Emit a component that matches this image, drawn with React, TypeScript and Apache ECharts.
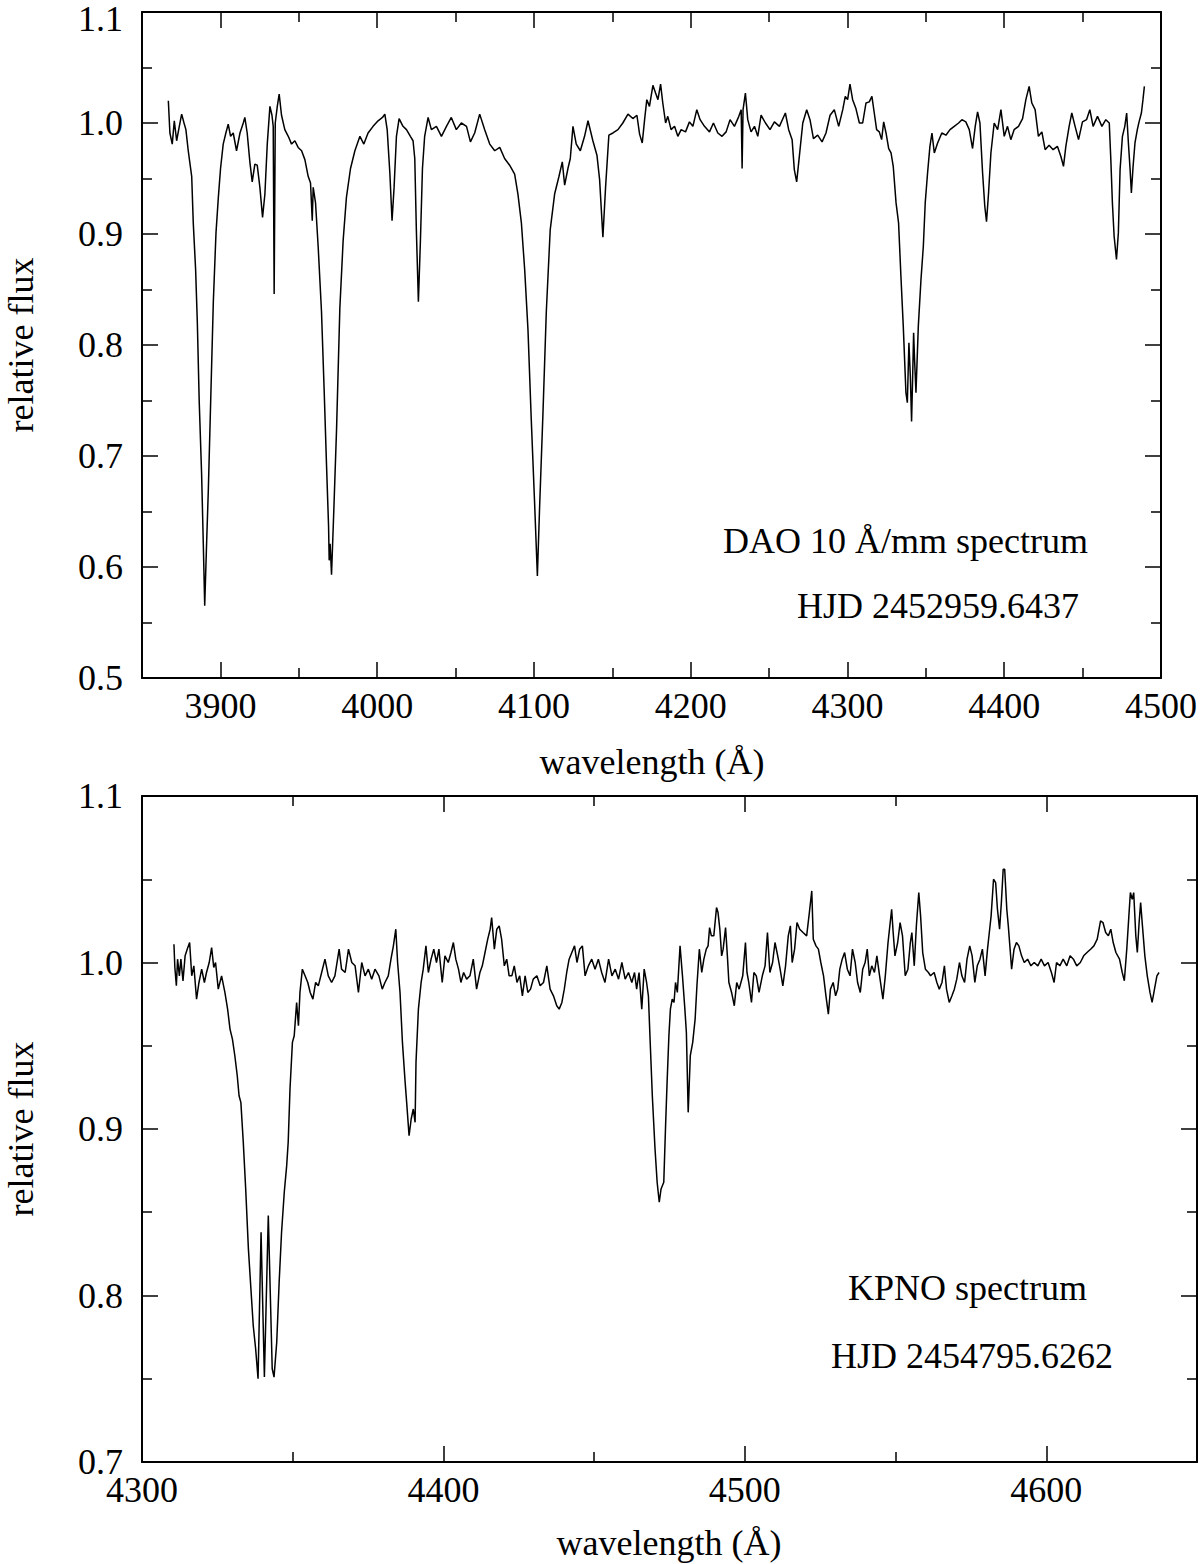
import React, { useEffect, useRef } from "react";
import * as echarts from "echarts";

// ---- Top panel (DAO) : wavelength (Å) and relative flux ----
const topWave = [
  3866.8, 3867.8, 3869.3, 3870.6, 3872.1, 3873.8, 3875.3, 3876.8, 3878.0, 3879.5,
  3881.7, 3882.7, 3884.2, 3885.3, 3886.5, 3888.0, 3889.1, 3890.0, 3891.2, 3892.3,
  3893.8, 3895.5, 3897.2, 3898.7, 3900.1, 3901.8, 3903.5, 3905.0, 3906.5, 3908.2,
  3910.3, 3912.5, 3914.6, 3915.6, 3917.1, 3918.8, 3920.3, 3922.0, 3923.5, 3925.2,
  3926.9, 3928.4, 3929.9, 3931.6, 3932.9, 3933.7, 3934.3, 3935.0, 3936.3, 3937.5,
  3939.0, 3941.1, 3943.3, 3945.4, 3947.5, 3949.6, 3951.8, 3953.9, 3956.0, 3957.5,
  3958.6, 3959.2, 3960.7, 3962.4, 3964.5, 3966.2, 3967.7, 3969.0, 3969.4, 3970.0,
  3970.9, 3972.4, 3974.1, 3976.2, 3978.3, 3980.4, 3983.0, 3985.8, 3989.0, 3991.5,
  3994.2, 3997.4, 4000.6, 4003.4, 4004.9, 4006.4, 4008.1, 4009.5, 4010.8, 4012.3,
  4014.0, 4016.5, 4018.7, 4021.2, 4022.9, 4024.0, 4025.0, 4026.3, 4027.6, 4028.9,
  4030.3, 4032.5, 4034.6, 4037.8, 4041.0, 4044.2, 4047.3, 4050.5, 4053.7, 4057.0,
  4059.5, 4062.2, 4065.4, 4068.6, 4071.8, 4075.0, 4078.2, 4081.3, 4084.5, 4087.7,
  4089.8, 4092.0, 4094.1, 4096.2, 4098.3, 4100.4, 4102.2, 4103.6, 4105.8, 4107.9,
  4110.4, 4113.2, 4116.0, 4118.1, 4119.6, 4121.7, 4123.2, 4124.9, 4127.0, 4129.6,
  4132.3, 4134.5, 4137.6, 4140.2, 4141.9, 4144.0, 4145.7, 4147.8, 4150.4, 4153.6,
  4156.7, 4160.0, 4163.1, 4165.7, 4167.4, 4169.1, 4170.6, 4172.0, 4173.7, 4175.9,
  4177.6, 4179.1, 4180.8, 4182.2, 4184.0, 4185.4, 4187.5, 4189.7, 4191.8, 4193.9,
  4196.7, 4199.2, 4201.4, 4203.9, 4206.0, 4208.8, 4212.0, 4214.5, 4217.3, 4220.0,
  4222.6, 4225.1, 4227.9, 4230.7, 4232.2, 4232.8, 4233.4, 4234.9, 4236.4, 4238.5,
  4240.7, 4242.8, 4244.9, 4247.7, 4250.6, 4253.4, 4256.6, 4260.4, 4262.5, 4264.7,
  4266.1, 4267.6, 4269.3, 4271.5, 4274.0, 4276.1, 4278.3, 4281.0, 4283.8, 4286.3,
  4288.9, 4291.6, 4294.4, 4297.0, 4298.6, 4300.1, 4301.6, 4303.3, 4305.4, 4307.6,
  4309.7, 4311.8, 4313.9, 4315.6, 4317.1, 4318.6, 4320.3, 4321.8, 4323.1, 4324.6,
  4326.3, 4327.8, 4329.2, 4331.0, 4332.6, 4334.1, 4335.6, 4337.3, 4338.2, 4339.2,
  4340.1, 4340.9, 4341.6, 4342.2, 4342.8, 4343.7, 4345.2, 4346.9, 4348.4, 4349.6,
  4351.1, 4352.6, 4353.9, 4355.4, 4357.5, 4360.2, 4362.8, 4365.4, 4368.1, 4370.9,
  4373.0, 4375.5, 4377.7, 4379.8, 4381.5, 4383.0, 4384.5, 4386.2, 4387.6, 4388.7,
  4390.0, 4391.5, 4393.6, 4395.8, 4397.9, 4400.0, 4402.1, 4404.2, 4406.3, 4409.1,
  4411.7, 4413.8, 4415.9, 4417.6, 4419.7, 4421.8, 4424.0, 4426.1, 4428.6, 4431.2,
  4433.9, 4436.1, 4437.8, 4439.3, 4441.4, 4443.1, 4445.2, 4447.4, 4449.9, 4452.5,
  4454.6, 4456.7, 4459.5, 4462.3, 4464.8, 4467.0, 4468.0, 4469.0, 4470.1, 4471.6,
  4472.8, 4473.9, 4475.4, 4476.9, 4478.1, 4479.2, 4480.3, 4481.1, 4482.2, 4483.4,
  4484.9, 4486.0, 4487.5, 4488.5, 4489.4,
];
const topFlux = [
  1.020, 0.991, 0.981, 1.002, 0.984, 0.997, 1.008, 1.000, 0.994, 0.975,
  0.952, 0.910, 0.868, 0.820, 0.749, 0.685, 0.621, 0.565, 0.621, 0.669,
  0.749, 0.839, 0.901, 0.933, 0.959, 0.981, 0.991, 0.999, 0.988, 0.991,
  0.975, 0.991, 1.000, 1.005, 0.991, 0.965, 0.947, 0.963, 0.962, 0.942,
  0.915, 0.936, 0.981, 1.015, 1.007, 0.997, 0.846, 1.000, 1.015, 1.026,
  1.007, 0.994, 0.988, 0.981, 0.984, 0.978, 0.975, 0.967, 0.952, 0.946,
  0.912, 0.942, 0.928, 0.888, 0.830, 0.759, 0.692, 0.637, 0.606, 0.621,
  0.593, 0.653, 0.724, 0.833, 0.894, 0.933, 0.959, 0.975, 0.988, 0.981,
  0.991, 0.997, 1.002, 1.005, 1.008, 0.994, 0.955, 0.912, 0.942, 0.988,
  1.004, 0.997, 0.994, 0.988, 0.984, 0.968, 0.904, 0.839, 0.894, 0.959,
  0.988, 1.005, 0.994, 0.997, 0.988, 0.997, 1.005, 0.994, 1.000, 0.997,
  0.983, 0.991, 1.008, 0.994, 0.981, 0.975, 0.978, 0.968, 0.962, 0.954,
  0.936, 0.910, 0.868, 0.814, 0.733, 0.659, 0.592, 0.653, 0.740, 0.830,
  0.904, 0.936, 0.952, 0.965, 0.944, 0.959, 0.968, 0.997, 0.981, 0.975,
  0.988, 1.002, 0.984, 0.971, 0.949, 0.897, 0.942, 0.989, 0.991, 0.994,
  1.000, 1.008, 1.004, 1.007, 0.990, 0.982, 1.003, 1.021, 1.015, 1.034,
  1.027, 1.021, 1.035, 1.018, 1.000, 1.006, 0.994, 0.997, 0.988, 0.994,
  0.992, 1.001, 0.997, 1.012, 1.003, 0.997, 0.992, 1.000, 0.991, 0.988,
  0.992, 1.003, 0.997, 1.006, 1.012, 0.959, 1.012, 1.027, 1.003, 0.992,
  0.997, 0.988, 1.007, 1.000, 0.994, 1.001, 0.997, 1.009, 0.994, 0.985,
  0.958, 0.947, 0.970, 1.000, 1.012, 1.003, 0.986, 0.989, 0.983, 0.991,
  1.007, 1.012, 0.997, 1.012, 1.024, 1.021, 1.035, 1.021, 1.013, 1.000,
  1.000, 1.018, 1.019, 1.024, 1.009, 0.994, 0.992, 0.985, 1.001, 0.991,
  0.977, 0.973, 0.961, 0.928, 0.910, 0.862, 0.817, 0.757, 0.748, 0.802,
  0.772, 0.731, 0.772, 0.811, 0.787, 0.757, 0.817, 0.859, 0.889, 0.928,
  0.955, 0.979, 0.991, 0.973, 0.982, 0.991, 0.989, 0.994, 0.997, 1.000,
  1.003, 1.001, 0.994, 0.977, 0.997, 1.010, 1.000, 0.955, 0.925, 0.911,
  0.937, 0.973, 1.000, 0.994, 1.012, 0.988, 0.997, 0.985, 0.994, 0.997,
  1.004, 1.021, 1.033, 1.018, 1.012, 0.988, 0.992, 0.976, 0.980, 0.976,
  0.979, 0.970, 0.961, 0.979, 0.997, 1.009, 0.997, 0.985, 1.001, 1.003,
  1.012, 0.997, 1.006, 0.997, 1.003, 1.000, 0.967, 0.928, 0.898, 0.877,
  0.901, 0.958, 0.988, 0.997, 1.009, 0.982, 0.958, 0.937, 0.961, 0.982,
  0.994, 1.001, 1.009, 1.021, 1.033,
];

// ---- Bottom panel (KPNO) ----
const botWave = [
  4310.6, 4310.9, 4311.4, 4311.8, 4312.4, 4312.9, 4313.6, 4314.3, 4315.0, 4315.8,
  4316.5, 4317.2, 4318.1, 4318.9, 4319.8, 4320.7, 4321.4, 4322.3, 4323.1, 4323.8,
  4324.4, 4325.3, 4326.4, 4327.5, 4328.4, 4329.2, 4330.0, 4330.8, 4331.6, 4332.2,
  4332.8, 4333.6, 4334.4, 4335.3, 4336.2, 4336.9, 4337.7, 4338.5, 4339.5, 4340.6,
  4341.9, 4343.2, 4343.8, 4344.7, 4345.5, 4346.3, 4347.2, 4348.0, 4348.5, 4349.1,
  4349.9, 4350.5, 4351.3, 4351.9, 4352.4, 4353.2, 4354.1, 4355.0, 4355.8, 4356.7,
  4357.6, 4358.5, 4359.6, 4360.7, 4361.8, 4362.9, 4364.0, 4365.4, 4366.2, 4367.4,
  4368.5, 4369.6, 4370.7, 4371.8, 4372.9, 4374.0, 4375.1, 4376.2, 4377.3, 4378.6,
  4379.7, 4380.6, 4381.7, 4382.6, 4383.4, 4384.2, 4384.8, 4385.6, 4386.4, 4387.3,
  4387.8, 4388.6, 4389.3, 4390.0, 4390.6, 4390.9, 4391.7, 4392.6, 4393.3, 4394.2,
  4395.0, 4395.9, 4396.8, 4397.7, 4398.5, 4399.6, 4400.5, 4401.6, 4402.5, 4403.3,
  4404.1, 4405.0, 4405.8, 4406.7, 4407.7, 4408.8, 4409.9, 4411.0, 4412.1, 4412.9,
  4413.8, 4414.7, 4415.5, 4416.0, 4416.9, 4417.7, 4418.5, 4419.3, 4420.2, 4421.0,
  4421.8, 4422.7, 4423.5, 4424.4, 4425.3, 4426.2, 4427.1, 4428.0, 4428.9, 4429.8,
  4431.0, 4432.1, 4433.2, 4434.3, 4435.4, 4436.5, 4437.6, 4438.4, 4439.3, 4440.1,
  4440.9, 4441.7, 4442.6, 4443.5, 4444.3, 4445.2, 4446.1, 4447.0, 4448.1, 4449.2,
  4450.3, 4451.4, 4452.5, 4453.6, 4454.8, 4455.9, 4457.0, 4458.1, 4459.2, 4460.3,
  4461.4, 4462.5, 4463.4, 4464.1, 4464.9, 4465.8, 4466.6, 4467.4, 4468.0, 4468.6,
  4469.3, 4470.2, 4470.9, 4471.6, 4472.2, 4473.1, 4473.7, 4474.2, 4474.8, 4475.3,
  4475.9, 4476.5, 4477.0, 4477.6, 4478.5, 4479.3, 4480.1, 4480.6, 4481.2, 4481.9,
  4482.7, 4483.5, 4484.1, 4484.9, 4485.7, 4486.4, 4487.2, 4487.8, 4488.3, 4488.9,
  4489.7, 4490.6, 4491.1, 4491.7, 4492.3, 4492.8, 4493.6, 4494.2, 4494.7, 4495.6,
  4496.5, 4497.3, 4498.1, 4499.3, 4500.2, 4500.7, 4501.3, 4502.2, 4503.0, 4503.8,
  4504.7, 4505.8, 4506.7, 4507.5, 4508.3, 4509.2, 4510.0, 4510.9, 4511.7, 4512.6,
  4513.5, 4514.4, 4515.1, 4515.7, 4516.5, 4517.3, 4518.2, 4519.3, 4520.5, 4521.4,
  4522.2, 4522.7, 4523.6, 4524.4, 4525.2, 4526.1, 4526.9, 4527.7, 4528.4, 4529.3,
  4530.1, 4530.8, 4531.5, 4532.3, 4533.1, 4534.0, 4534.9, 4535.7, 4536.6, 4537.4,
  4538.3, 4539.1, 4539.9, 4540.6, 4541.3, 4542.1, 4543.0, 4543.8, 4544.7, 4545.8,
  4546.6, 4547.5, 4548.1, 4548.7, 4549.2, 4549.8, 4550.7, 4551.5, 4552.3, 4553.2,
  4554.1, 4554.9, 4555.4, 4556.2, 4556.9, 4557.7, 4558.3, 4559.0, 4559.9, 4560.9,
  4561.6, 4562.8, 4563.7, 4564.5, 4565.4, 4566.2, 4566.9, 4567.8, 4568.7, 4569.5,
  4570.3, 4571.2, 4572.0, 4572.9, 4573.7, 4574.6, 4575.4, 4576.3, 4577.1, 4578.0,
  4578.8, 4579.7, 4580.5, 4581.1, 4581.7, 4582.5, 4583.2, 4583.8, 4584.5, 4585.1,
  4585.7, 4586.2, 4586.9, 4587.4, 4588.0, 4588.5, 4589.3, 4590.1, 4590.9, 4591.8,
  4592.7, 4593.8, 4594.9, 4596.0, 4597.2, 4598.3, 4599.4, 4600.6, 4601.7, 4602.6,
  4603.4, 4604.5, 4605.6, 4606.8, 4607.9, 4609.0, 4610.1, 4611.3, 4612.4, 4613.5,
  4614.7, 4615.8, 4616.9, 4618.0, 4618.8, 4619.7, 4620.6, 4621.4, 4622.2, 4623.1,
  4624.3, 4625.2, 4625.9, 4626.7, 4627.4, 4627.9, 4628.5, 4629.0, 4629.7, 4630.2,
  4630.8, 4631.3, 4631.9, 4632.7, 4633.5, 4634.4, 4635.1, 4635.9, 4636.7, 4637.4,
];
const botFlux = [
  1.011, 0.997, 0.986, 1.002, 0.992, 1.002, 0.989, 1.004, 1.008, 1.012,
  0.992, 0.998, 0.978, 0.988, 0.996, 0.988, 0.994, 1.000, 1.009, 0.997,
  1.000, 0.984, 0.992, 0.982, 0.972, 0.960, 0.954, 0.944, 0.932, 0.920,
  0.916, 0.892, 0.864, 0.828, 0.802, 0.782, 0.768, 0.750, 0.838, 0.751,
  0.848, 0.756, 0.751, 0.772, 0.808, 0.838, 0.862, 0.878, 0.892, 0.924,
  0.952, 0.956, 0.976, 0.962, 0.982, 0.996, 0.992, 0.988, 0.982, 0.978,
  0.988, 0.986, 0.994, 1.002, 0.992, 0.988, 0.992, 1.008, 0.996, 0.994,
  1.008, 1.000, 0.998, 0.982, 1.000, 0.992, 0.996, 0.990, 0.996, 0.992,
  0.984, 0.988, 0.992, 1.002, 1.010, 1.020, 1.000, 0.982, 0.952, 0.928,
  0.916, 0.896, 0.906, 0.912, 0.904, 0.940, 0.972, 0.988, 0.996, 1.010,
  0.994, 1.002, 1.008, 1.000, 1.008, 0.988, 1.004, 1.000, 1.006, 1.012,
  1.002, 0.996, 0.988, 0.994, 0.990, 0.992, 1.002, 0.984, 0.994, 0.998,
  1.006, 1.014, 1.020, 1.027, 1.008, 1.020, 1.022, 1.014, 0.998, 1.002,
  0.992, 0.992, 0.998, 0.988, 0.992, 0.980, 0.992, 0.982, 0.984, 0.990,
  0.992, 0.986, 0.988, 0.998, 0.984, 0.980, 0.974, 0.972, 0.976, 0.984,
  0.994, 1.002, 1.006, 1.010, 1.000, 1.008, 1.010, 0.992, 0.998, 1.002,
  0.996, 1.002, 0.994, 0.988, 1.002, 0.992, 0.996, 0.990, 1.000, 0.990,
  0.994, 0.988, 0.994, 0.984, 0.994, 0.972, 0.996, 0.988, 0.980, 0.952,
  0.920, 0.888, 0.868, 0.856, 0.864, 0.868, 0.902, 0.928, 0.956, 0.972,
  0.978, 0.976, 0.988, 0.982, 1.010, 0.992, 0.972, 0.958, 0.910, 0.944,
  0.952, 0.966, 0.986, 1.008, 0.994, 1.002, 1.008, 1.010, 1.021, 1.016,
  1.016, 1.033, 1.030, 1.020, 1.004, 1.008, 1.021, 1.004, 0.988, 0.982,
  0.974, 0.988, 0.984, 0.992, 1.012, 0.994, 0.988, 0.976, 0.994, 0.992,
  0.982, 0.992, 0.998, 1.018, 0.994, 1.000, 1.012, 1.004, 0.996, 0.986,
  0.998, 1.016, 1.022, 1.000, 1.008, 1.024, 1.020, 1.018, 1.016, 1.030,
  1.043, 1.014, 1.010, 1.008, 1.000, 0.992, 0.980, 0.969, 0.984, 0.988,
  0.980, 0.984, 0.996, 1.002, 1.006, 0.996, 0.992, 1.008, 1.000, 0.988,
  0.982, 0.996, 1.000, 1.008, 0.992, 0.998, 0.994, 1.004, 0.992, 0.978,
  0.992, 1.012, 1.022, 1.032, 1.018, 1.004, 1.012, 1.024, 1.016, 0.992,
  0.996, 1.012, 1.018, 0.998, 1.022, 1.042, 1.028, 1.006, 0.996, 0.994,
  0.992, 0.994, 0.988, 0.984, 0.988, 0.998, 0.984, 0.976, 0.980, 0.984,
  0.990, 1.000, 0.992, 0.988, 1.002, 1.010, 1.004, 0.988, 0.998, 1.002,
  1.008, 0.992, 1.008, 1.018, 1.028, 1.050, 1.048, 1.032, 1.020, 1.036,
  1.056, 1.056, 1.032, 1.022, 1.008, 0.996, 1.008, 1.012, 1.010, 1.004,
  1.000, 1.002, 0.998, 1.000, 0.998, 1.002, 0.998, 1.000, 0.994, 0.988,
  1.000, 0.998, 1.002, 0.998, 1.004, 1.002, 0.998, 1.000, 1.004, 1.006,
  1.008, 1.010, 1.014, 1.025, 1.024, 1.018, 1.016, 1.020, 1.012, 1.006,
  1.002, 0.994, 0.989, 1.008, 1.028, 1.042, 1.038, 1.042, 1.016, 1.006,
  1.024, 1.036, 1.022, 1.004, 0.992, 0.982, 0.976, 0.984, 0.992, 0.994,
];

// ---- Tick values ----
const topXMajor = [3900, 4000, 4100, 4200, 4300, 4400, 4500];
const topXMinor = [3850, 3950, 4050, 4150, 4250, 4350, 4450];
const botXMajor = [4300, 4400, 4500, 4600];
const botXMinor = [4350, 4450, 4550, 4650];
// top panel's "1.1" sits at the very top edge; it is drawn as its own text
const topYLabels = [0.5, 0.6, 0.7, 0.8, 0.9, 1.0];
const botYLabels = [0.7, 0.8, 0.9, 1.0, 1.1];

const FONT = "'Liberation Serif', 'Times New Roman', serif";
const BLACK = "#000";

function xAxesFor(gridIndex: number, min: number, max: number, major: number[], minor: number[]) {
  const base = {
    type: "value" as const,
    gridIndex,
    min,
    max,
    splitLine: { show: false },
  };
  const tickStyle = { color: BLACK, width: 1.5 };
  return [
    {
      ...base,
      position: "bottom",
      axisLine: { show: true, lineStyle: { color: BLACK, width: 2 } },
      axisTick: { show: true, inside: true, length: 16, customValues: major, lineStyle: tickStyle },
      axisLabel: {
        show: true,
        customValues: major,
        margin: 10,
        color: BLACK,
        fontFamily: FONT,
        fontSize: 36,
        formatter: (v: number) => String(Math.round(v)),
      },
    },
    {
      ...base,
      position: "bottom",
      axisLine: { show: false },
      axisTick: { show: true, inside: true, length: 10, customValues: minor, lineStyle: tickStyle },
      axisLabel: { show: false },
    },
    {
      ...base,
      position: "top",
      axisLine: { show: true, lineStyle: { color: BLACK, width: 2 } },
      axisTick: { show: true, inside: true, length: 16, customValues: major, lineStyle: tickStyle },
      axisLabel: { show: false },
    },
    {
      ...base,
      position: "top",
      axisLine: { show: false },
      axisTick: { show: true, inside: true, length: 10, customValues: minor, lineStyle: tickStyle },
      axisLabel: { show: false },
    },
  ];
}

function yAxesFor(gridIndex: number, min: number, max: number, labels: number[]) {
  const base = {
    type: "value" as const,
    gridIndex,
    min,
    max,
    interval: 0.1,
    splitLine: { show: false },
    axisLine: { show: true, lineStyle: { color: BLACK, width: 2 } },
    axisTick: { show: true, inside: true, length: 16, lineStyle: { color: BLACK, width: 1.5 } },
    minorTick: { show: true, splitNumber: 2, length: 10, lineStyle: { color: BLACK, width: 1.5 } },
  };
  return [
    {
      ...base,
      position: "left",
      axisLabel: {
        show: true,
        customValues: labels,
        margin: 19,
        color: BLACK,
        fontFamily: FONT,
        fontSize: 36,
        formatter: (v: number) => v.toFixed(1),
      },
    },
    { ...base, position: "right", axisLabel: { show: false } },
  ];
}

function textEl(text: string, x: number, y: number, align: string, rotation = 0) {
  return {
    type: "text",
    x,
    y,
    rotation,
    style: {
      text,
      fill: BLACK,
      font: `36px ${FONT}`,
      textAlign: align,
      textVerticalAlign: "middle",
    },
  };
}

export default function App() {
  const ref = useRef<HTMLDivElement>(null);

  useEffect(() => {
    document.body.style.margin = "0";
    if (!ref.current) return;
    const chart = echarts.init(ref.current, undefined, { renderer: "svg" });

    const topData = topWave.map((w, i) => [w, topFlux[i]]);
    const botData = botWave.map((w, i) => [w, botFlux[i]]);

    chart.setOption({
      animation: false,
      backgroundColor: "#fff",
      grid: [
        { left: 142, top: 12, width: 1020, height: 666 },
        { left: 142, top: 796, width: 1055, height: 666 },
      ],
      xAxis: [
        ...xAxesFor(0, 3850, 4500, topXMajor, topXMinor),
        ...xAxesFor(1, 4300, 4650, botXMajor, botXMinor),
      ],
      yAxis: [...yAxesFor(0, 0.5, 1.1, topYLabels), ...yAxesFor(1, 0.7, 1.1, botYLabels)],
      series: [
        {
          type: "line",
          xAxisIndex: 0,
          yAxisIndex: 0,
          data: topData,
          showSymbol: false,
          symbol: "none",
          lineStyle: { color: BLACK, width: 1.5 },
        },
        {
          type: "line",
          xAxisIndex: 4,
          yAxisIndex: 2,
          data: botData,
          showSymbol: false,
          symbol: "none",
          lineStyle: { color: BLACK, width: 1.5 },
        },
      ],
      graphic: [
        textEl("1.1", 123, 19, "right"),
        textEl("relative flux", 21, 345, "center", Math.PI / 2),
        textEl("relative flux", 21, 1129, "center", Math.PI / 2),
        textEl("wavelength (Å)", 652, 762, "center"),
        textEl("wavelength (Å)", 669, 1543, "center"),
        textEl("DAO 10 Å/mm spectrum", 1088, 541, "right"),
        textEl("HJD 2452959.6437", 1079, 606, "right"),
        textEl("KPNO spectrum", 1087, 1288, "right"),
        textEl("HJD 2454795.6262", 1113, 1356, "right"),
      ],
    });

    return () => {
      chart.dispose();
    };
  }, []);

  return <div ref={ref} style={{ width: 1200, height: 1564 }} />;
}
